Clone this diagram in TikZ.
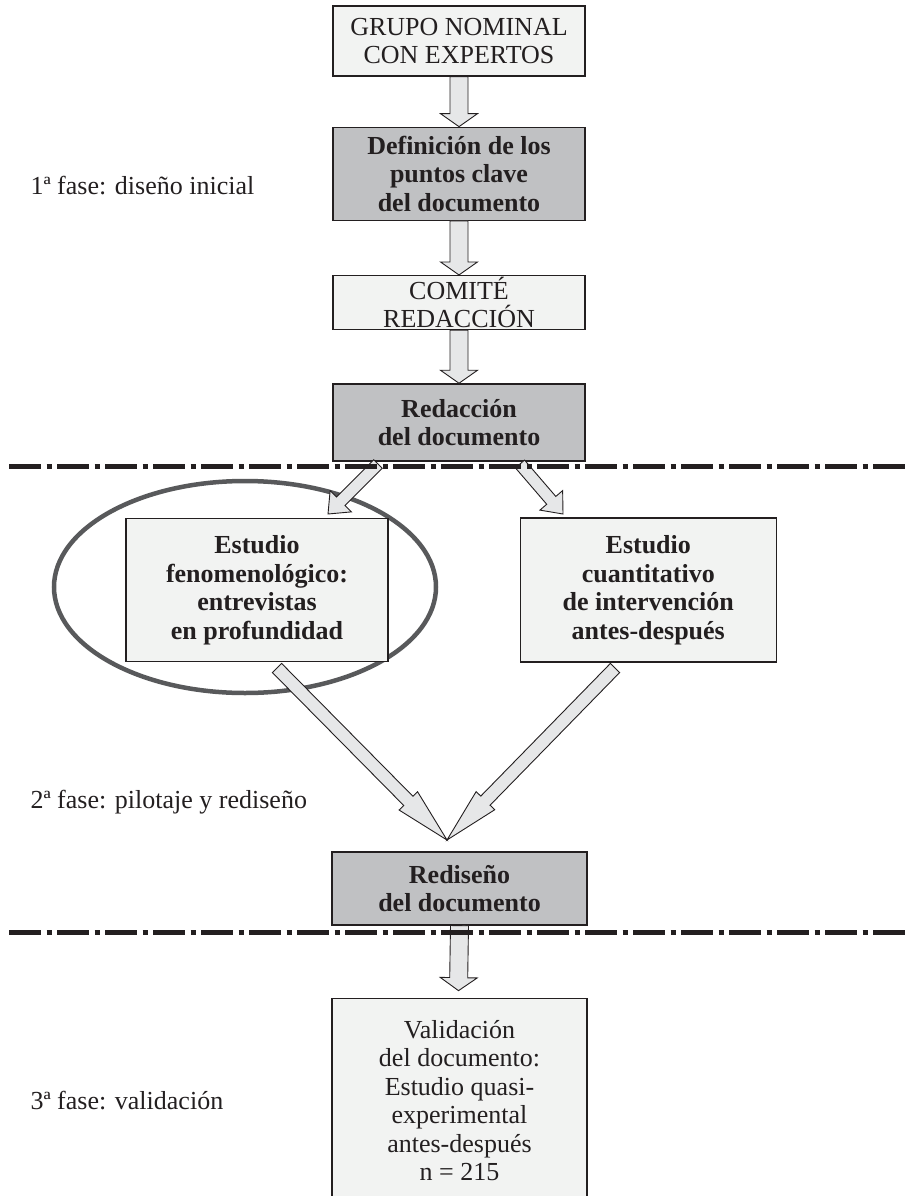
\documentclass[tikz,border=0pt]{standalone}
\usepackage{fontspec}
\setmainfont{Liberation Serif}
\usetikzlibrary{positioning,calc,backgrounds}
\definecolor{tinta}{HTML}{231F20}
\definecolor{claro}{HTML}{F2F3F2}
\definecolor{oscuro}{HTML}{C0C1C3}
\definecolor{relleno}{HTML}{E6E7E8}
\definecolor{elipse}{HTML}{58595B}
\tikzset{every node/.style={font=\fontsize{26pt}{28.5pt}\selectfont,text=tinta},
  caja/.style={draw=tinta,line width=1.3pt,fill=claro,minimum width=252pt,inner sep=1pt,align=center},
  cajanegrita/.style={caja,font=\fontsize{26pt}{28.5pt}\selectfont\bfseries},
  cajaosc/.style={cajanegrita,fill=oscuro},
  fase/.style={anchor=base west},
  flecha/.style={draw=tinta,line width=0.9pt,fill=relleno},
  corte/.style={line width=5pt,draw=tinta,dash pattern=on 32pt off 5.5pt on 5pt off 5.5pt}}
% flecha gruesa: inicio, fin, medio ancho, medio ancho punta, largo punta
\newcommand{\gruesa}[5]{%
  \coordinate (g-base) at ($(#2)!#5!(#1)$);
  \filldraw[flecha] ($(#1)!#3!90:(#2)$) -- ($(g-base)!#3!90:(#2)$) -- ($(g-base)!#4!90:(#2)$) -- (#2)
    -- ($(g-base)!#4!-90:(#2)$) -- ($(g-base)!#3!-90:(#2)$) -- ($(#1)!#3!-90:(#2)$) -- cycle;
}

\begin{document}
\begin{tikzpicture}[x=1pt,y=-1pt]
    \useasboundingbox (0,0) rectangle (907,1196);
    \node[caja,minimum height=70pt] (grupo) at (459,41) {GRUPO NOMINAL\\CON EXPERTOS};
    \node[cajaosc,minimum height=93pt] (definicion) [below=50pt of grupo] {Definición de los\\puntos clave\\del documento};
    \node[caja,minimum height=54pt] (comite) [below=54pt of definicion] {COMITÉ\\REDACCIÓN};
    \node[cajaosc,minimum height=77pt] (redaccion) [below=53pt of comite] {Redacción\\del documento};
    \node[cajanegrita,minimum width=262pt,minimum height=143pt] (fenomeno) at (257,590) {Estudio\\fenomenológico:\\entrevistas\\en profundidad};
    \node[cajanegrita,minimum width=256pt,minimum height=144pt] (cuanti) [right=131pt of fenomeno] {Estudio\\cuantitativo\\de intervención\\antes-después};
    \node[cajaosc,minimum width=255pt,minimum height=73pt] (rediseno) at (459.5,888.5) {Rediseño\\del documento};
    \node[caja,minimum width=255pt,minimum height=205pt] (validacion) [below=72pt of rediseno] {Validación\\del documento:\\Estudio quasi-\\experimental\\antes-después\\n = 215};
    \node[fase] (fase1) at (27,194) {1ª fase: diseño inicial};
    \node[fase] (fase2) at (27,808) {2ª fase: pilotaje y rediseño};
    \node[fase] (fase3) at (27,1109) {3ª fase: validación};
    \begin{scope}[on background layer]
        \draw[line width=4.5pt,elipse] ($(fenomeno.center)+(-12,-3)$) ellipse [x radius=191pt,y radius=106pt];
    \end{scope}
    \coordinate (izq-ini) at (378,464);
    \coordinate (izq-fin) at (328,514);
    \coordinate (der-ini) at (520,464);
    \coordinate (der-fin) at (563,514);
    \coordinate (v-izq) at (277,668);
    \coordinate (v-der) at (615,668);
    \coordinate (punta) at (447,840);
    \coordinate (val-punta) at ($(validacion.north)+(-1,-7)$);
    \gruesa{grupo.south}{definicion.north}{9pt}{18.5pt}{13pt}
    \gruesa{definicion.south}{comite.north}{9pt}{18.5pt}{13pt}
    \gruesa{comite.south}{redaccion.north}{9pt}{18.5pt}{13pt}
    \gruesa{izq-ini}{izq-fin}{6pt}{15pt}{18pt}
    \gruesa{der-ini}{der-fin}{6pt}{15pt}{18pt}
    \gruesa{v-izq}{punta}{6.5pt}{13pt}{55pt}
    \gruesa{v-der}{punta}{6.5pt}{13pt}{55pt}
    \gruesa{rediseno.south}{val-punta}{9pt}{18.5pt}{13pt}
    \draw[corte] (9,466) -- (907,466);
    \draw[corte] (9,932) -- (907,932);
\end{tikzpicture}
\end{document}
